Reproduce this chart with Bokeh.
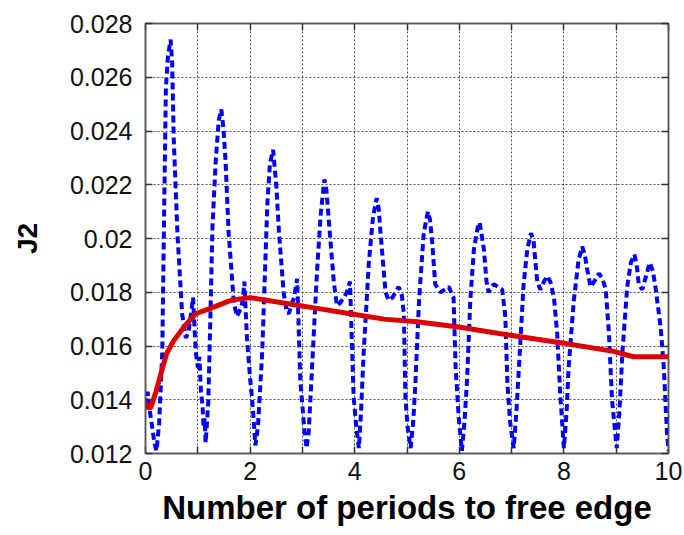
from bokeh.plotting import figure
from bokeh.models import Range1d, LinearAxis, FixedTicker
from bokeh.embed import file_html
from bokeh.resources import INLINE

# ---------------- data ----------------
blue_x = [0.00, 0.04, 0.08, 0.12, 0.17, 0.21, 0.26, 0.32, 0.36, 0.39, 0.43, 0.48, 0.51, 0.54, 0.61, 0.70,
          0.77, 0.82, 0.87, 0.91, 0.96, 1.00, 1.03, 1.06, 1.09, 1.11, 1.13, 1.15, 1.20, 1.24, 1.28, 1.34,
          1.40, 1.45, 1.49, 1.53, 1.59, 1.69, 1.75, 1.82, 1.86, 1.89, 1.94, 2.00, 2.04, 2.07, 2.10, 2.15,
          2.23, 2.33, 2.38, 2.44, 2.50, 2.55, 2.64, 2.70, 2.74, 2.80, 2.84, 2.90, 2.96, 3.00, 3.04, 3.08,
          3.12, 3.19, 3.28, 3.35, 3.42, 3.46, 3.52, 3.60, 3.66, 3.72, 3.79, 3.85, 3.91, 3.95, 3.98, 4.03,
          4.08, 4.12, 4.17, 4.27, 4.35, 4.42, 4.46, 4.49, 4.59, 4.65, 4.72, 4.78, 4.84, 4.90, 4.94, 4.97,
          5.01, 5.07, 5.12, 5.16, 5.23, 5.32, 5.40, 5.44, 5.48, 5.54, 5.60, 5.64, 5.72, 5.80, 5.89, 5.93,
          5.99, 6.05, 6.10, 6.15, 6.21, 6.28, 6.35, 6.39, 6.43, 6.47, 6.52, 6.56, 6.62, 6.66, 6.74, 6.82,
          6.88, 6.92, 6.97, 7.04, 7.09, 7.14, 7.23, 7.30, 7.37, 7.42, 7.49, 7.55, 7.62, 7.68, 7.74, 7.81,
          7.87, 7.93, 8.00, 8.05, 8.09, 8.19, 8.28, 8.35, 8.40, 8.44, 8.51, 8.58, 8.67, 8.74, 8.80, 8.86,
          8.92, 8.97, 9.01, 9.06, 9.12, 9.21, 9.28, 9.35, 9.40, 9.43, 9.50, 9.57, 9.64, 9.70, 9.75, 9.85,
          9.91, 9.97, 10.00]
blue_y = [0.0138, 0.0143, 0.0136, 0.0131, 0.0124, 0.0121, 0.0131, 0.0157, 0.0215, 0.0256, 0.0268, 0.0274, 0.0265, 0.0237, 0.0202, 0.0172,
          0.0163, 0.0165, 0.0172, 0.0178, 0.0158, 0.0152, 0.0156, 0.0143, 0.0138, 0.0130, 0.0133, 0.0124, 0.0139, 0.0170, 0.0204, 0.0228,
          0.0244, 0.0248, 0.0241, 0.0229, 0.0202, 0.0176, 0.0171, 0.0174, 0.0177, 0.0184, 0.0163, 0.0148, 0.0140, 0.0132, 0.0123, 0.0130,
          0.0157, 0.0213, 0.0228, 0.0233, 0.0220, 0.0203, 0.0180, 0.0173, 0.0172, 0.0176, 0.0178, 0.0185, 0.0147, 0.0138, 0.0128, 0.0122,
          0.0128, 0.0154, 0.0188, 0.0209, 0.0222, 0.0218, 0.0203, 0.0184, 0.0175, 0.0176, 0.0178, 0.0180, 0.0184, 0.0159, 0.0141, 0.0130,
          0.0122, 0.0135, 0.0157, 0.0191, 0.0208, 0.0215, 0.0211, 0.0203, 0.0180, 0.0177, 0.0178, 0.0180, 0.0182, 0.0179, 0.0172, 0.0141,
          0.0130, 0.0122, 0.0132, 0.0146, 0.0177, 0.0202, 0.0210, 0.0207, 0.0199, 0.0183, 0.0181, 0.0180, 0.0181, 0.0182, 0.0178, 0.0152,
          0.0133, 0.0121, 0.0132, 0.0148, 0.0177, 0.0196, 0.0204, 0.0206, 0.0201, 0.0196, 0.0184, 0.0180, 0.0182, 0.0183, 0.0182, 0.0181,
          0.0171, 0.0146, 0.0132, 0.0122, 0.0135, 0.0152, 0.0183, 0.0196, 0.0202, 0.0199, 0.0184, 0.0181, 0.0184, 0.0186, 0.0184, 0.0178,
          0.0165, 0.0142, 0.0122, 0.0135, 0.0152, 0.0177, 0.0192, 0.0197, 0.0194, 0.0189, 0.0182, 0.0184, 0.0187, 0.0185, 0.0181, 0.0165,
          0.0140, 0.0130, 0.0122, 0.0135, 0.0158, 0.0182, 0.0191, 0.0194, 0.0189, 0.0183, 0.0181, 0.0186, 0.0191, 0.0188, 0.0182, 0.0167,
          0.0152, 0.0128, 0.0121]

red_x = [0.00, 0.05, 0.10, 0.20, 0.30, 0.40, 0.54, 0.73, 0.96, 1.24, 1.63, 2.00, 2.64, 3.28, 3.92, 4.56,
         5.19, 6.02, 6.98, 8.00, 8.95, 9.33, 10.00]
red_y = [0.0139, 0.0137, 0.0137, 0.0143, 0.0150, 0.0157, 0.0162, 0.0167, 0.0172, 0.0174, 0.0177, 0.0178, 0.0176, 0.0174, 0.0172, 0.0170,
         0.0169, 0.0167, 0.0164, 0.0161, 0.0158, 0.0156, 0.0156]

x_label_ticks = [0, 2, 4, 6, 8, 10]
x_tick_labels = ["0", "2", "4", "6", "8", "10"]
x_odd_ticks = [1, 3, 5, 7, 9]
x_all_ticks = [0, 1, 2, 3, 4, 5, 6, 7, 8, 9, 10]
y_ticks = [0.012, 0.014, 0.016, 0.018, 0.020, 0.022, 0.024, 0.026, 0.028]
y_tick_labels = ["0.012", "0.014", "0.016", "0.018", "0.02", "0.022", "0.024", "0.026", "0.028"]

x_label = "Number of periods to free edge"
y_label = "J2"

# ---------------- figure ----------------
FONT = "Liberation Sans"
p = figure(width=684, height=535, output_backend="svg", toolbar_location=None,
           x_range=Range1d(0, 10), y_range=Range1d(0.012, 0.028),
           min_border_left=145, min_border_right=16, min_border_top=23, min_border_bottom=82,
           x_axis_label=x_label, y_axis_label=y_label)
p.background_fill_color = "white"
p.border_fill_color = "white"
p.outline_line_color = "#555555"
p.outline_line_width = 1.5

def style_ticks(ax):
    for pre in ("major", "minor"):
        setattr(ax, pre + "_tick_in", 7)
        setattr(ax, pre + "_tick_out", 0)
        setattr(ax, pre + "_tick_line_color", "#333333")
        setattr(ax, pre + "_tick_line_width", 1.5)
    ax.axis_line_color = "#555555"
    ax.axis_line_width = 1.5

xa = p.xaxis[0]
ya = p.yaxis[0]
xa.ticker = FixedTicker(ticks=x_label_ticks, minor_ticks=x_odd_ticks)
ya.ticker = FixedTicker(ticks=y_ticks, minor_ticks=[])
for ax, t, l in ((xa, x_label_ticks, x_tick_labels), (ya, y_ticks, y_tick_labels)):
    style_ticks(ax)
    ax.major_label_overrides = {tk: lb for tk, lb in zip(t, l)}
    ax.major_label_text_font = FONT
    ax.major_label_text_font_size = "25px"
    ax.major_label_text_color = "#111111"
    ax.axis_label_text_font = FONT
    ax.axis_label_text_font_style = "bold"
    ax.axis_label_text_color = "black"
xa.major_label_standoff = 8
ya.major_label_standoff = 13
xa.axis_label_text_font_size = "33px"
xa.axis_label_standoff = 6
ya.axis_label_text_font_size = "28px"
ya.axis_label_standoff = 24

# frame ticks on the top and right (minor ticks only, so no labels)
top = LinearAxis(ticker=FixedTicker(ticks=[], minor_ticks=x_all_ticks))
style_ticks(top)
p.add_layout(top, "above")
right = LinearAxis(ticker=FixedTicker(ticks=[], minor_ticks=y_ticks))
style_ticks(right)
p.add_layout(right, "right")

p.xgrid.ticker = FixedTicker(ticks=x_all_ticks)
p.ygrid.ticker = FixedTicker(ticks=y_ticks)
for g in (p.xgrid[0], p.ygrid[0]):
    g.grid_line_color = "#222222"
    g.grid_line_dash = "2 2"
    g.grid_line_width = 1
    g.grid_line_alpha = 0.8

p.line(blue_x, blue_y, line_color="#0000ff", line_width=4, line_dash="7 4")
p.line(red_x, red_y, line_color="#dd0000", line_width=5)

open("out.html", "w").write(file_html(p, INLINE))
